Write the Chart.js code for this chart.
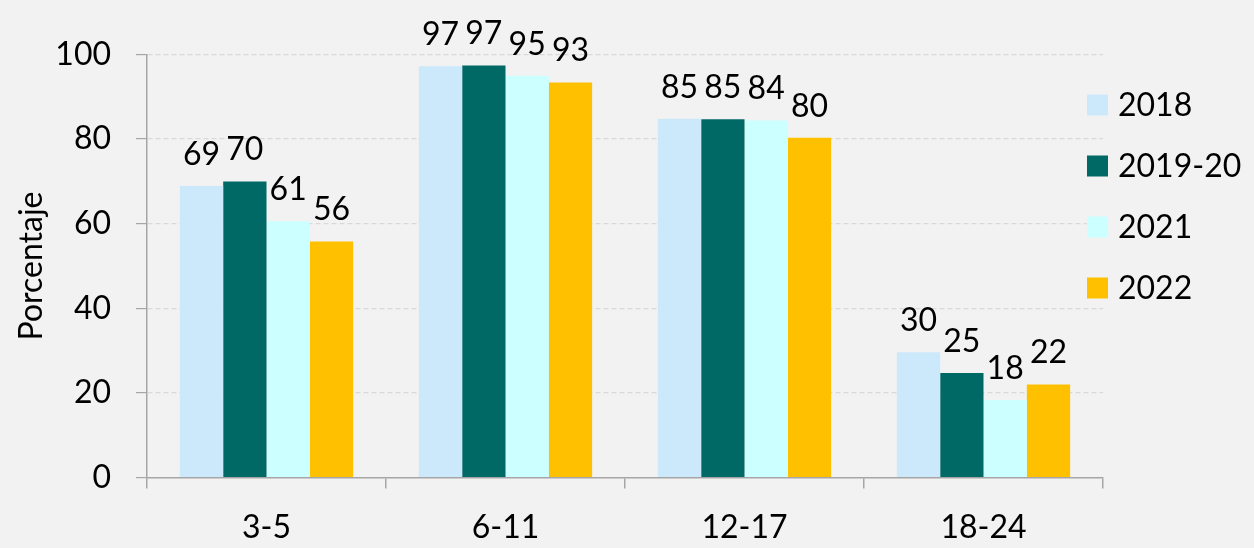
<!DOCTYPE html>
<html>
<head>
<meta charset="utf-8">
<script src="https://cdn.jsdelivr.net/npm/chart.js@4.4.1/dist/chart.umd.min.js"></script>
<style>
html, body { margin: 0; padding: 0; background: #f2f2f2; }
#wrap { width: 1254px; height: 548px; }
</style>
</head>
<body>
<div id="wrap"><canvas id="c" width="1254" height="548"></canvas></div>
<script>
// ---- data ----
const categories = ['3-5', '6-11', '12-17', '18-24'];
const seriesNames = ['2018', '2019-20', '2021', '2022'];
const values2018 = [68.9, 97.2, 84.8, 29.6];
const values2019_20 = [70.0, 97.4, 84.7, 24.7];
const values2021 = [60.6, 95.0, 84.4, 18.3];
const values2022 = [55.8, 93.4, 80.3, 22.0];
const yTickValues = [0, 20, 40, 60, 80, 100];
const yAxisTitle = 'Porcentaje';

// ---- styles ----
const seriesColors = ['#cce9fb', '#006865', '#ccffff', '#ffc000'];
const FONT = 'Lato';

const valueLabels = {
  id: 'valueLabels',
  afterDatasetsDraw(chart) {
    const ctx = chart.ctx;
    ctx.save();
    ctx.font = '32px ' + FONT;
    ctx.fillStyle = '#000';
    ctx.textAlign = 'center';
    ctx.textBaseline = 'alphabetic';
    chart.data.datasets.forEach((ds, i) => {
      chart.getDatasetMeta(i).data.forEach((bar, j) => {
        ctx.fillText(String(Math.round(ds.data[j])), bar.x, bar.y - 21);
      });
    });
    ctx.restore();
  }
};

const sideLegend = {
  id: 'sideLegend',
  afterDraw(chart) {
    const ctx = chart.ctx;
    const area = chart.chartArea;
    ctx.save();
    ctx.font = '32px ' + FONT;
    ctx.fillStyle = '#000';
    ctx.textAlign = 'left';
    ctx.textBaseline = 'alphabetic';
    chart.data.datasets.forEach((ds, i) => {
      const cy = area.top + 50.5 + i * 61;
      ctx.fillStyle = ds.backgroundColor;
      ctx.fillRect(area.right - 16, cy - 10.5, 21, 21);
      ctx.fillStyle = '#000';
      ctx.fillText(ds.label, area.right + 15, cy + 11);
    });
    ctx.restore();
  }
};

function draw() {
  const seriesValues = [values2018, values2019_20, values2021, values2022];
  new Chart(document.getElementById('c'), {
    type: 'bar',
    data: {
      labels: categories,
      datasets: seriesNames.map((name, i) => ({
        label: name,
        data: seriesValues[i],
        backgroundColor: seriesColors[i],
        borderWidth: 0,
        categoryPercentage: 0.725,
        barPercentage: 1.0
      }))
    },
    options: {
      responsive: false,
      animation: false,
      devicePixelRatio: 1,
      layout: { padding: { left: 0, right: 151, top: 54.5, bottom: 0 } },
      plugins: {
        legend: { display: false },
        tooltip: { enabled: false }
      },
      scales: {
        x: {
          grid: {
            display: true,
            drawOnChartArea: false,
            drawTicks: true,
            tickLength: 11,
            tickColor: '#a6a6a6',
            lineWidth: 1.5,
            offset: true
          },
          border: { display: true, color: '#a6a6a6', width: 1.5 },
          ticks: {
            color: '#000',
            font: { family: FONT, size: 32 },
            padding: 20,
            maxRotation: 0,
            autoSkip: false
          },
          afterFit(scale) { scale.height = 70.5; }
        },
        y: {
          min: 0,
          max: 100,
          afterBuildTicks(scale) { scale.ticks = yTickValues.map(v => ({ value: v })); },
          grid: {
            display: true,
            drawOnChartArea: true,
            drawTicks: true,
            tickLength: 11,
            tickColor: '#a6a6a6',
            tickBorderDash: [],
            color: (ctx) => (ctx.tick && ctx.tick.value === 0) ? 'rgba(0,0,0,0)' : '#d9d9d9',
            lineWidth: 1.2
          },
          border: { display: true, color: '#a6a6a6', width: 1.5, dash: [5, 3] },
          ticks: {
            color: '#000',
            font: { family: FONT, size: 32 },
            padding: 25
          },
          title: {
            display: true,
            text: yAxisTitle,
            color: '#000',
            font: { family: FONT, size: 32 },
            padding: { top: 12, bottom: 0 }
          },
          afterFit(scale) { scale.width = 147; }
        }
      }
    },
    plugins: [valueLabels, sideLegend]
  });
}

if (document.fonts && document.fonts.load) {
  document.fonts.load('32px ' + FONT).then(draw, draw);
} else {
  draw();
}
</script>
</body>
</html>
